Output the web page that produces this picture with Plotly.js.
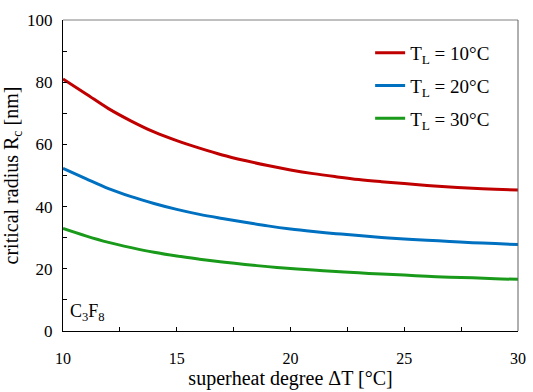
<!DOCTYPE html>
<html>
<head>
<meta charset="utf-8">
<script src="https://cdn.plot.ly/plotly-3.0.1.min.js"></script>
<style>
  html, body { margin: 0; padding: 0; background: #fff; }
  #plot { width: 533px; height: 392px; }
</style>
</head>
<body>
<div id="plot"></div>
<script>
// superheat degree (x) and critical radius for each liquid temperature
let dT = [10, 11, 12, 13, 14, 15, 16, 17, 18, 19, 20, 21, 22, 23, 24, 25, 26, 27, 28, 29, 30]
let rc_10 = [81, 76.3, 71.5, 67.5, 64, 61.2, 58.8, 56.6, 54.8, 53.2, 51.8, 50.6, 49.6, 48.7, 48, 47.4, 46.8, 46.3, 45.9, 45.6, 45.3]
let rc_20 = [52.3, 49, 45.8, 43.2, 41, 39.1, 37.5, 36.2, 35, 33.8, 32.8, 32, 31.3, 30.7, 30.1, 29.6, 29.2, 28.8, 28.4, 28.1, 27.8]
let rc_30 = [33, 30.6, 28.5, 26.8, 25.3, 24.1, 23.1, 22.2, 21.4, 20.7, 20.1, 19.6, 19.1, 18.7, 18.3, 18, 17.6, 17.3, 17.1, 16.8, 16.6]
let names = ["T<sub>L</sub> = 10°C", "T<sub>L</sub> = 20°C", "T<sub>L</sub> = 30°C"]
let colors = ["#C00000", "#0070C0", "#1A9A1A"]

let series = [rc_10, rc_20, rc_30]
let data = []
for (let i = 0; i < series.length; i++) {
  data.push({
    x: dT,
    y: series[i],
    name: names[i],
    legendgroup: "g" + i,
    type: "scatter",
    mode: "lines",
    line: {color: colors[i], width: 3, shape: "spline", smoothing: 1}
  })
}

let serif = "Liberation Serif"

let layout = {
  width: 533,
  height: 392,
  margin: {l: 63, r: 15, t: 20, b: 61},
  paper_bgcolor: "#fff",
  plot_bgcolor: "#fff",
  font: {family: serif, size: 16, color: "#000"},
  showlegend: true,
  legend: {
    x: 0.675, y: 0.955, xanchor: "left", yanchor: "top",
    bgcolor: "rgba(0,0,0,0)",
    font: {family: serif, size: 19, color: "#000"},
    tracegroupgap: 5,
    itemwidth: 30
  },
  xaxis: {
    range: [10, 30],
    dtick: 5,
    ticks: "inside",
    ticklen: 4,
    tickcolor: "#000",
    minor: {dtick: 2.5, ticks: "inside", ticklen: 4, tickcolor: "#000"},
    showgrid: false,
    zeroline: false,
    showline: true,
    linecolor: "#000",
    linewidth: 1,
    ticklabelstandoff: 13,
    tickfont: {family: serif, size: 16, color: "#000"},
    title: {text: "superheat degree ΔT [°C]", font: {family: serif, size: 20, color: "#000"}, standoff: 0}
  },
  yaxis: {
    range: [0, 100],
    dtick: 20,
    ticks: "inside",
    ticklen: 4,
    tickcolor: "#000",
    minor: {dtick: 10, ticks: "inside", ticklen: 4, tickcolor: "#000"},
    showgrid: false,
    zeroline: false,
    showline: true,
    linecolor: "#000",
    linewidth: 1,
    ticklabelstandoff: 6,
    tickfont: {family: serif, size: 17, color: "#000"},
    title: {text: "critical radius R<sub>c</sub> [nm]", font: {family: serif, size: 20, color: "#000"}, standoff: 4}
  },
  shapes: [
    {type: "line", xref: "paper", yref: "paper", x0: 0, x1: 1, y0: 1, y1: 1, line: {color: "#808080", width: 1}},
    {type: "line", xref: "paper", yref: "paper", x0: 1, x1: 1, y0: 0, y1: 1, line: {color: "#606060", width: 1}}
  ],
  annotations: [
    {text: "C<sub>3</sub>F<sub>8</sub>", xref: "paper", yref: "paper", x: 0.012, y: 0.015,
     xanchor: "left", yanchor: "bottom", showarrow: false, font: {family: serif, size: 18, color: "#000"}}
  ]
}

Plotly.newPlot("plot", data, layout, {displayModeBar: false})
</script>
</body>
</html>
